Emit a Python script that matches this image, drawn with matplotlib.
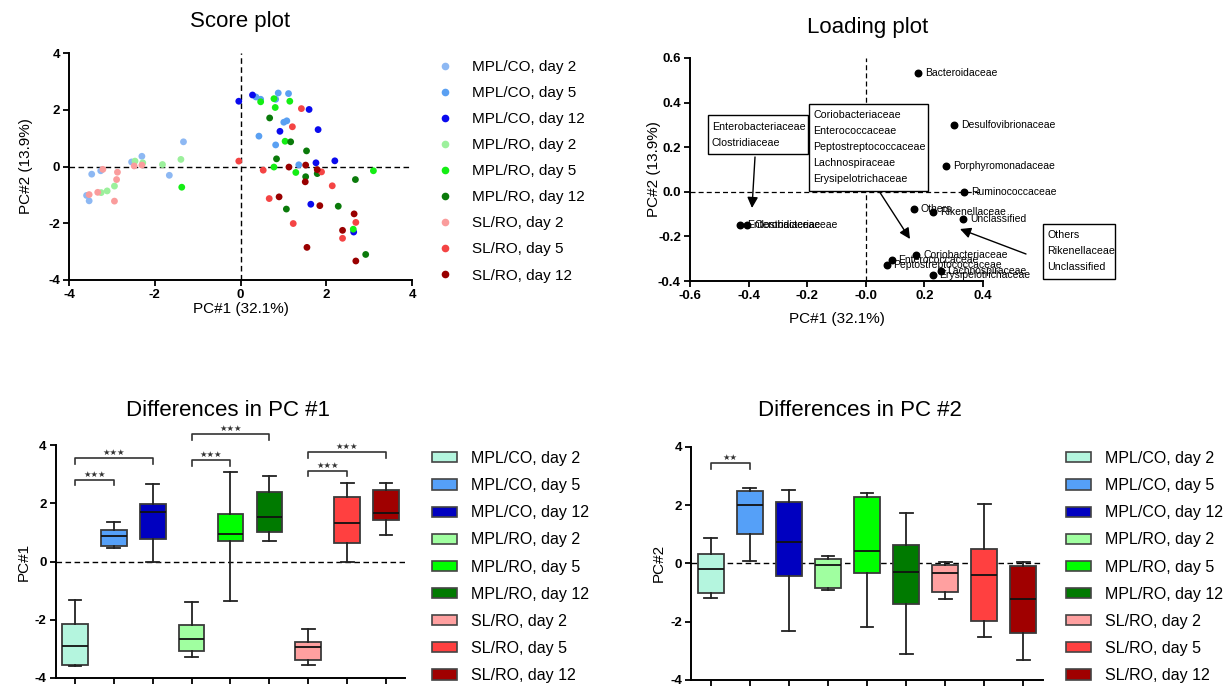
import matplotlib
matplotlib.use("Agg")
import matplotlib.pyplot as plt
from matplotlib.lines import Line2D
from matplotlib.patches import Patch, Rectangle

plt.rcParams['font.family'] = ['Liberation Sans', 'DejaVu Sans']
plt.rcParams['axes.unicode_minus'] = False

W, H = 1225, 686

# ---------------- data ----------------
groups = ["MPL/CO, day 2", "MPL/CO, day 5", "MPL/CO, day 12",
          "MPL/RO, day 2", "MPL/RO, day 5", "MPL/RO, day 12",
          "SL/RO, day 2", "SL/RO, day 5", "SL/RO, day 12"]

score_colors = ["#8db8f3", "#5aa0f2", "#0a0aee", "#9cf09c", "#14ee14",
                "#0a7a0a", "#fa9c9c", "#f44444", "#990000"]
box_colors = ["#b4f5de", "#55a0f8", "#0000c0", "#a0ffa0", "#00ff00",
              "#007a00", "#ffa0a0", "#ff4040", "#a00000"]

score_x = [
    [-3.59, -3.53, -3.47, -3.26, -2.54, -2.30, -1.66, -1.33],
    [0.47, 0.36, 0.88, 0.82, 1.12, 1.01, 1.08, 0.43, 0.82, 1.36],
    [-0.04, 0.28, 1.60, 1.81, 0.92, 1.76, 2.20, 1.64, 2.64],
    [-3.25, -3.11, -2.94, -2.46, -2.28, -1.82, -1.39],
    [-1.37, 0.47, 0.78, 0.81, 1.15, 1.04, 0.78, 1.29, 3.10, 2.63],
    [0.68, 1.17, 1.54, 0.84, 1.52, 1.79, 2.68, 1.07, 2.28, 2.92],
    [-3.53, -3.33, -3.21, -2.87, -2.89, -2.94, -2.48, -2.30],
    [-0.04, 1.42, 1.21, 0.53, 1.89, 2.14, 0.67, 1.23, 2.69, 2.38],
    [1.13, 1.52, 1.79, 1.51, 0.90, 1.85, 2.65, 2.38, 1.55, 2.69],
]
score_y = [
    [-1.02, -1.21, -0.27, -0.15, 0.16, 0.36, -0.31, 0.87],
    [2.37, 2.45, 2.59, 2.37, 2.57, 1.56, 1.61, 1.07, 0.76, 0.06],
    [2.30, 2.52, 2.01, 1.30, 1.24, 0.13, 0.20, -1.33, -2.31],
    [-0.92, -0.86, -0.69, 0.19, 0.13, 0.07, 0.25],
    [-0.73, 2.28, 2.39, 2.08, 2.30, 0.89, -0.02, -0.21, -0.15, -2.21],
    [1.71, 0.87, 0.55, 0.27, -0.36, -0.25, -0.46, -1.50, -1.40, -3.10],
    [-0.99, -0.91, -0.10, -0.20, -0.46, -1.22, 0.02, 0.05],
    [0.19, 2.04, 1.40, -0.13, -0.19, -0.68, -1.13, -2.01, -1.97, -2.53],
    [-0.02, 0.05, -0.11, -0.54, -1.07, -1.38, -1.67, -2.25, -2.85, -3.33],
]

families = ["Bacteroidaceae", "Desulfovibrionaceae", "Porphyromonadaceae",
            "Ruminococcaceae", "Others", "Rikenellaceae", "Unclassified",
            "Enterobacteriaceae", "Clostridiaceae", "Coriobacteriaceae",
            "Enterococcaceae", "Peptostreptococcaceae", "Lachnospiraceae",
            "Erysipelotrichaceae"]
load_x = [0.179, 0.301, 0.273, 0.335, 0.164, 0.230, 0.332, -0.428, -0.404,
          0.173, 0.088, 0.071, 0.255, 0.228]
load_y = [0.534, 0.299, 0.114, 0.0, -0.075, -0.091, -0.121, -0.150, -0.150,
          -0.285, -0.307, -0.327, -0.355, -0.372]

callout_texts = ["Enterobacteriaceae\nClostridiaceae",
                 "Coriobacteriaceae\nEnterococcaceae\nPeptostreptococcaceae\nLachnospiraceae\nErysipelotrichaceae",
                 "Others\nRikenellaceae\nUnclassified"]

# box stats: whisker low, Q1, median, Q3, whisker high
pc1_wlo = [-3.60, 0.45, -0.03, -3.28, -1.37, 0.69, -3.54, -0.03, 0.90]
pc1_q1 = [-3.56, 0.54, 0.77, -3.09, 0.72, 1.01, -3.37, 0.64, 1.42]
pc1_med = [-2.90, 0.86, 1.70, -2.67, 0.94, 1.53, -2.92, 1.32, 1.65]
pc1_q3 = [-2.15, 1.08, 1.96, -2.19, 1.63, 2.39, -2.76, 2.21, 2.45]
pc1_whi = [-1.32, 1.37, 2.66, -1.40, 3.09, 2.92, -2.33, 2.70, 2.70]

pc2_wlo = [-1.20, 0.07, -2.31, -0.90, -2.19, -3.11, -1.22, -2.53, -3.31]
pc2_q1 = [-1.03, 0.99, -0.45, -0.85, -0.34, -1.41, -0.98, -1.97, -2.40]
pc2_med = [-0.19, 1.99, 0.72, -0.07, 0.43, -0.29, -0.32, -0.41, -1.22]
pc2_q3 = [0.33, 2.48, 2.09, 0.16, 2.26, 0.62, -0.07, 0.48, -0.09]
pc2_whi = [0.88, 2.59, 2.51, 0.24, 2.42, 1.71, 0.05, 2.03, 0.05]

pc1_sig = [(1, 2, 2.81, "★★★"), (1, 3, 3.55, "★★★"), (4, 5, 3.48, "★★★"),
           (4, 6, 4.38, "★★★"), (7, 8, 3.12, "★★★"), (7, 9, 3.76, "★★★")]
pc2_sig = [(1, 2, 3.43, "★★")]

# ---------------- figure ----------------
fig = plt.figure(figsize=(W / 100, H / 100), dpi=100)


def ax_rect(l, t, r, b):
    return [l / W, 1 - b / H, (r - l) / W, (b - t) / H]


TICK_FS = 9.5
LAB_FS = 11


def style(ax):
    for s in ("top", "right"):
        ax.spines[s].set_visible(False)
    for s in ("left", "bottom"):
        ax.spines[s].set_linewidth(1.4)
    ax.tick_params(direction="out", length=4.5, width=1.3, labelsize=TICK_FS, pad=2)
    for lab in ax.get_xticklabels() + ax.get_yticklabels():
        lab.set_fontweight("bold")


def ftitle(txt, x, y):
    fig.text(x / W, 1 - y / H, txt, fontsize=16, ha="center", va="center")


# Score plot
ax1 = fig.add_axes(ax_rect(69, 53, 412, 280))
ax1.axhline(0, color="black", ls=(0, (4, 2.5)), lw=1, zorder=1)
ax1.axvline(0, color="black", ls=(0, (4, 2.5)), lw=1, zorder=1)
for i, g in enumerate(groups):
    ax1.scatter(score_x[i], score_y[i], s=24, color=score_colors[i], edgecolors="none", zorder=3)
ax1.set_xlim(-4, 4)
ax1.set_ylim(-4, 4)
ax1.set_xticks([-4, -2, 0, 2, 4])
ax1.set_yticks([-4, -2, 0, 2, 4])
style(ax1)
ax1.set_xlabel("PC#1 (32.1%)", fontsize=LAB_FS, labelpad=0.5)
ax1.set_ylabel("PC#2 (13.9%)", fontsize=LAB_FS, labelpad=11)
ftitle("Score plot", 240, 21)

handles = [Line2D([], [], ls="none", marker="o", markersize=5.5, color=c, markeredgewidth=0)
           for c in score_colors]
fig.legend(handles, groups, loc="upper left", bbox_to_anchor=(437 / W, 1 - 60 / H),
           frameon=False, fontsize=11, borderpad=0, borderaxespad=0,
           handlelength=1.0, handletextpad=1.3, labelspacing=0.79)

# Loading plot
ax2 = fig.add_axes(ax_rect(690, 58, 983, 281))
ax2.axhline(0, color="black", ls=(0, (4, 2.5)), lw=0.9, zorder=1)
ax2.axvline(0, color="black", ls=(0, (4, 2.5)), lw=0.9, zorder=1)
ax2.scatter(load_x, load_y, s=22, color="black", zorder=3, clip_on=False)
for name, x, y in zip(families, load_x, load_y):
    ax2.annotate(name, (x, y), xytext=(5, 0), textcoords="offset points",
                 fontsize=7.5, va="center", ha="left", annotation_clip=False)
ax2.set_xlim(-0.6, 0.4)
ax2.set_ylim(-0.4, 0.6)
ax2.set_xticks([-0.6, -0.4, -0.2, 0.0, 0.2, 0.4])
ax2.set_xticklabels(["-0.6", "-0.4", "-0.2", "-0.0", "0.2", "0.4"])
ax2.set_yticks([-0.4, -0.2, 0.0, 0.2, 0.4, 0.6])
ax2.set_yticklabels(["-0.4", "-0.2", "0.0", "0.2", "0.4", "0.6"])
style(ax2)
ax2.set_xlabel("PC#1 (32.1%)", fontsize=LAB_FS, labelpad=7)
ax2.set_ylabel("PC#2 (13.9%)", fontsize=LAB_FS, labelpad=-2.5)
fig.text(868 / W, 1 - 27 / H, "Loading plot", fontsize=16, ha="center", va="center")


def d(px, py):
    return -0.6 + (px - 690) / 293.0, 0.6 - (py - 58) / 223.0


boxes_px = [(708, 115, 808, 154), (809, 104, 928, 191), (1043, 224, 1115, 279)]
arrows_px = [((755, 157), (752, 208)), ((879, 191), (910, 239)), ((1026, 254), (960, 229))]
for (l, t, r, b), txt in zip(boxes_px, callout_texts):
    x0, y1 = d(l, t)
    x1, y0 = d(r, b)
    ax2.add_patch(Rectangle((x0, y0), x1 - x0, y1 - y0, fill=True, fc="white",
                            ec="black", lw=1.0, clip_on=False, zorder=4))
    tx, ty = d(l + 4, (t + b) / 2)
    ax2.text(tx, ty, txt, fontsize=7.7, ha="left", va="center", linespacing=1.75,
             zorder=5, clip_on=False)
for tail, head in arrows_px:
    ax2.annotate("", xy=d(*head), xytext=d(*tail), annotation_clip=False,
                 arrowprops=dict(arrowstyle="-|>", color="black", lw=1.0,
                                 mutation_scale=16, shrinkA=0, shrinkB=0))


# Box plots
def boxpanel(rect, wlo, q1, med, q3, whi, sig, ylabel, title, tpos, legx):
    ax = fig.add_axes(rect)
    ax.axhline(0, color="black", ls=(0, (4, 2.5)), lw=1, zorder=1)
    stats = [dict(whislo=a, q1=b, med=c, q3=e, whishi=f, fliers=[])
             for a, b, c, e, f in zip(wlo, q1, med, q3, whi)]
    pos = list(range(1, len(stats) + 1))
    bp = ax.bxp(stats, positions=pos, widths=0.66, patch_artist=True, showfliers=False,
                boxprops=dict(edgecolor="#3a3a3a", linewidth=1.3),
                medianprops=dict(color="#111111", linewidth=1.3),
                whiskerprops=dict(color="#222222", linewidth=1.3),
                capprops=dict(color="#222222", linewidth=1.3), zorder=3)
    for patch, c in zip(bp["boxes"], box_colors):
        patch.set_facecolor(c)
    for a, b, yy, star in sig:
        ax.plot([a, a, b, b], [yy - 0.2, yy, yy, yy - 0.2], color="#333333", lw=1.2,
                clip_on=False, zorder=4)
        ax.text((a + b) / 2, yy + 0.03, star, ha="center", va="bottom", fontsize=6,
                family="DejaVu Sans", color="#333333", clip_on=False)
    ax.set_xlim(0.5, 9.5)
    ax.set_ylim(-4, 4)
    ax.set_xticks(pos)
    ax.set_xticklabels([])
    ax.set_yticks([-4, -2, 0, 2, 4])
    style(ax)
    ax.set_ylabel(ylabel, fontsize=LAB_FS, labelpad=3)
    ftitle(title, *tpos)
    lh = [Patch(facecolor=c, edgecolor="#444444", linewidth=1.2) for c in box_colors]
    fig.legend(lh, groups, loc="upper left", bbox_to_anchor=(legx / W, 1 - 451 / H),
               frameon=False, fontsize=11.5, borderpad=0, borderaxespad=0,
               handlelength=1.55, handleheight=0.6, handletextpad=0.9, labelspacing=0.76)
    return ax


boxpanel(ax_rect(55.5, 445, 405.5, 678), pc1_wlo, pc1_q1, pc1_med, pc1_q3, pc1_whi,
         pc1_sig, "PC#1", "Differences in PC #1", (228, 411), 432)
boxpanel(ax_rect(691.2, 446.7, 1042.9, 680), pc2_wlo, pc2_q1, pc2_med, pc2_q3, pc2_whi,
         pc2_sig, "PC#2", "Differences in PC #2", (860, 411), 1066)

fig.savefig("out.png", dpi=100)
